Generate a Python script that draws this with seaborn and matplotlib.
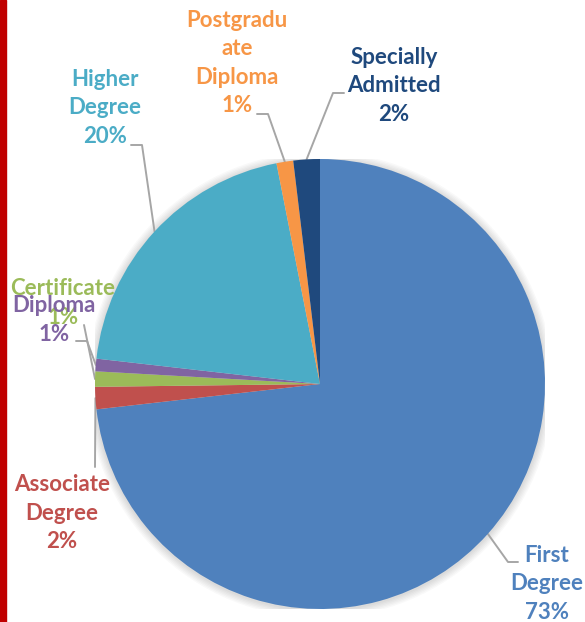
"""Pie chart of admissions by qualification type."""

import matplotlib
matplotlib.use("Agg")
import matplotlib.pyplot as plt
from matplotlib.patches import Rectangle, Circle
import numpy as np
import seaborn as sns

sns.set_style("white")
plt.rcParams['font.family'] = ['Lato', 'DejaVu Sans']

# data (percent share, clockwise from 12 o'clock)
categories = ["First Degree", "Associate Degree", "Certificate", "Diploma",
              "Higher Degree", "Postgraduate Diploma", "Specially Admitted"]
shares = [73.2, 1.6, 1.1, 0.9, 20.1, 1.2, 1.9]
label_text = ["First\nDegree", "Associate\nDegree", "Certificate", "Diploma",
              "Higher\nDegree", "Postgradu\nate\nDiploma", "Specially\nAdmitted"]
colors = ["#4F81BD", "#C0504D", "#9BBB59", "#8064A2",
          "#4BACC6", "#F79646", "#1F497D"]

# label layout, pixels in the 585x622 canvas: text centre, elbow, line end
PIE_CX, PIE_CY, PIE_R = 320, 384, 225
label_pos = [(547, 584), (62, 513), (63, 303), (54, 320),
             (105, 108), (237, 63), (394, 86)]
elbow_pos = [(508, 562), (95, 467), (84, 325), (87, 341),
             (142, 145), (268, 114), (333, 93)]
line_end = [(518, 562), (95, 467), (84, 325), (76, 341),
            (131, 145), (257, 114), (344, 93)]


def px(p):
    """Pixel coordinates to pie data coordinates."""
    return (p[0] - PIE_CX) / PIE_R, (PIE_CY - p[1]) / PIE_R


fig = plt.figure(figsize=(5.85, 6.22), dpi=100)
ax = fig.add_axes([(PIE_CX - PIE_R) / 585, (622 - PIE_CY - PIE_R) / 622,
                   2 * PIE_R / 585, 2 * PIE_R / 622])

# soft shadow around the pie
for k in range(6):
    ax.add_patch(Circle((0, -0.004), 1.0 + 0.006 * (k + 1), color="black",
                        alpha=0.025, lw=0, zorder=0))

wedges, _ = ax.pie(shares, colors=colors, startangle=90, counterclock=False,
                   wedgeprops=dict(linewidth=0))
for w in wedges:
    w.set_zorder(2)

total = sum(shares)
for i, w in enumerate(wedges):
    mid = np.deg2rad((w.theta1 + w.theta2) / 2)
    edge = (np.cos(mid), np.sin(mid))
    ex, ey = px(elbow_pos[i])
    lx, ly = px(line_end[i])
    ax.plot([edge[0], ex, lx], [edge[1], ey, ly], color="#A6A6A6", lw=1.4,
            clip_on=False, zorder=1)
    tx, ty = px(label_pos[i])
    pct = f"{round(shares[i] / total * 100)}%"
    ax.text(tx, ty, f"{label_text[i]}\n{pct}", ha="center", va="center",
            color=colors[i], fontsize=16, fontweight="bold", linespacing=1.45,
            zorder=5, clip_on=False)

ax.set_xlim(-1, 1)
ax.set_ylim(-1, 1)
ax.set_aspect("auto")
ax.axis("off")

# red accent bar on the left edge
fig.patches.append(Rectangle((0, 0), 6 / 585, 1, transform=fig.transFigure,
                             color="#C00000", zorder=10))

fig.savefig("out.png", dpi=100)
